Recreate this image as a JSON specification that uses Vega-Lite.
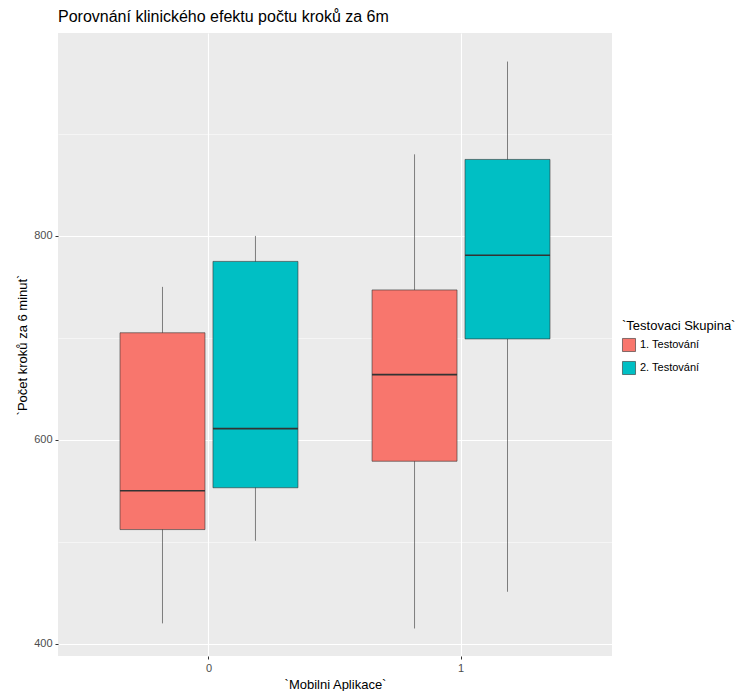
{
  "$schema": "https://vega.github.io/schema/vega-lite/v6.json",
  "width": 554,
  "height": 623,
  "autosize": {"type": "none"},
  "padding": {"left": 58, "top": 33, "right": 138, "bottom": 35},
  "background": "white",
  "title": {
    "text": "Porovnání klinického efektu počtu kroků za 6m",
    "anchor": "start",
    "frame": "group",
    "font": "Liberation Sans",
    "fontSize": 16,
    "fontWeight": "normal",
    "color": "black",
    "offset": 8
  },
  "data": {
    "values": [
      {"app": "0", "group": "1. Testování", "lower": 420, "q1": 512, "median": 550, "q3": 705, "upper": 750},
      {"app": "0", "group": "2. Testování", "lower": 501, "q1": 553, "median": 611, "q3": 775, "upper": 800},
      {"app": "1", "group": "1. Testování", "lower": 415, "q1": 579, "median": 664, "q3": 747, "upper": 880},
      {"app": "1", "group": "2. Testování", "lower": 451, "q1": 699, "median": 781, "q3": 875, "upper": 971}
    ]
  },
  "encoding": {
    "x": {
      "field": "app",
      "type": "nominal",
      "scale": {"domain": ["0", "1"], "paddingInner": 0.294, "paddingOuter": 0.246},
      "axis": {
        "title": "`Mobilni Aplikace`",
        "labelAngle": 0,
        "bandPosition": 0.5,
        "grid": true
      }
    },
    "xOffset": {
      "field": "group",
      "type": "nominal",
      "scale": {"domain": ["1. Testování", "2. Testování"], "paddingInner": 0.086, "paddingOuter": 0}
    }
  },
  "layer": [
    {
      "mark": {"type": "rule", "color": "#333333", "strokeWidth": 0.6},
      "encoding": {
        "y": {
          "field": "lower",
          "type": "quantitative",
          "scale": {"domain": [388, 999], "nice": false, "zero": false},
          "axis": {
            "title": "`Počet kroků za 6 minut`",
            "values": [400, 500, 600, 700, 800, 900],
            "labelExpr": "datum.value % 200 == 0 ? datum.label : ''",
            "grid": true,
            "gridWidth": {"condition": {"test": "datum.value % 200 == 0", "value": 1.1}, "value": 0.5},
            "tickOpacity": {"condition": {"test": "datum.value % 200 == 0", "value": 1}, "value": 0}
          }
        },
        "y2": {"field": "upper"}
      }
    },
    {
      "mark": {"type": "bar", "stroke": "#333333", "strokeWidth": 0.6},
      "encoding": {
        "y": {"field": "q1", "type": "quantitative"},
        "y2": {"field": "q3"},
        "color": {
          "field": "group",
          "type": "nominal",
          "scale": {"domain": ["1. Testování", "2. Testování"], "range": ["#F8766D", "#00BFC4"]},
          "legend": {
            "title": "`Testovaci Skupina`",
            "orient": "none",
            "legendX": 564,
            "legendY": 287,
            "symbolType": "square",
            "symbolSize": 170,
            "symbolStrokeColor": "#333333",
            "symbolStrokeWidth": 0.6,
            "symbolOpacity": 1,
            "rowPadding": 7
          }
        }
      }
    },
    {
      "mark": {"type": "tick", "color": "#333333", "thickness": 1.6, "size": 85, "orient": "horizontal", "opacity": 1},
      "encoding": {
        "y": {"field": "median", "type": "quantitative"}
      }
    }
  ],
  "config": {
    "view": {"fill": "#EBEBEB", "stroke": null},
    "axis": {
      "domain": false,
      "gridColor": "white",
      "gridWidth": 1.1,
      "tickColor": "#333333",
      "tickSize": 3,
      "labelFont": "Liberation Sans",
      "labelFontSize": 11,
      "labelColor": "#4D4D4D",
      "labelPadding": 3,
      "titleFont": "Liberation Sans",
      "titleFontSize": 13,
      "titleFontWeight": "normal",
      "titleColor": "black"
    },
    "axisY": {"titlePadding": 4},
    "axisX": {"titlePadding": 5},
    "legend": {
      "titleFont": "Liberation Sans",
      "titleFontSize": 13,
      "titleFontWeight": "normal",
      "titleColor": "black",
      "labelFont": "Liberation Sans",
      "labelFontSize": 11,
      "labelColor": "black"
    }
  }
}
